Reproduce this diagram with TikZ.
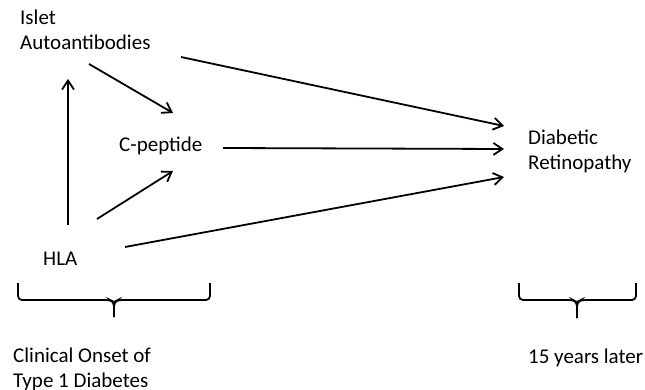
\documentclass[tikz,border=0pt]{standalone}
\usepackage{fontspec}
\setmainfont{Carlito}
\usetikzlibrary{arrows.meta}
\begin{document}
\begin{tikzpicture}[x=1pt,y=-1pt,
  lbl/.style={anchor=base west,inner sep=0pt,align=left,font=\fontsize{21}{25}\selectfont},
  conn/.style={line width=1.8pt,-{Straight Barb[length=9pt,width=12pt,line width=1.8pt]}},
  brace/.style={line width=1.8pt,rounded corners=4pt}]
\useasboundingbox (0,0) rectangle (645,390);
% multi-line labels: base anchor is the baseline of the last line
\node[lbl] (isl) at (20,50) {Islet\\Autoantibodies};
\node[lbl] (cpep) at (119,152) {C-peptide};
\node[lbl] (hla) at (43,265) {HLA};
\node[lbl] (dr) at (528,170) {Diabetic\\Retinopathy};
\node[lbl] (later) at (528,363) {15 years later};
\node[lbl] (onset) at (13,387) {Clinical Onset of\\Type 1 Diabetes};
% connector endpoints
\coordinate (hlaU) at (68,225);
\coordinate (islB) at (68,79);
\coordinate (islS) at (89,64);
\coordinate (cpT) at (173,113);
\coordinate (hlaR) at (97,219);
\coordinate (cpB) at (173,171);
\coordinate (islR) at (181,57);
\coordinate (drT) at (504,126);
\coordinate (cpR) at (223,148);
\coordinate (drM) at (504,149);
\coordinate (hlaE) at (125,247);
\coordinate (drB) at (504,177);
\draw[conn] (hlaU) -- (islB);
\draw[conn] (islS) -- (cpT);
\draw[conn] (hlaR) -- (cpB);
\draw[conn] (islR) -- (drT);
\draw[conn] (cpR) -- (drM);
\draw[conn] (hlaE) -- (drB);
% braces
\coordinate (b1l) at (18,283);
\coordinate (b1r) at (210,283);
\coordinate (b1t) at (114,317);
\draw[brace] (b1l) -- (18,300) -- (110,300) -- (114,302) -- (b1t);
\draw[brace] (b1r) -- (210,300) -- (118,300) -- (114,302) -- (b1t);
\coordinate (b2l) at (519,283);
\coordinate (b2r) at (636,283);
\coordinate (b2t) at (577,318);
\draw[brace] (b2l) -- (519,300) -- (573,300) -- (577,302) -- (b2t);
\draw[brace] (b2r) -- (636,300) -- (581,300) -- (577,302) -- (b2t);
\end{tikzpicture}
\end{document}
